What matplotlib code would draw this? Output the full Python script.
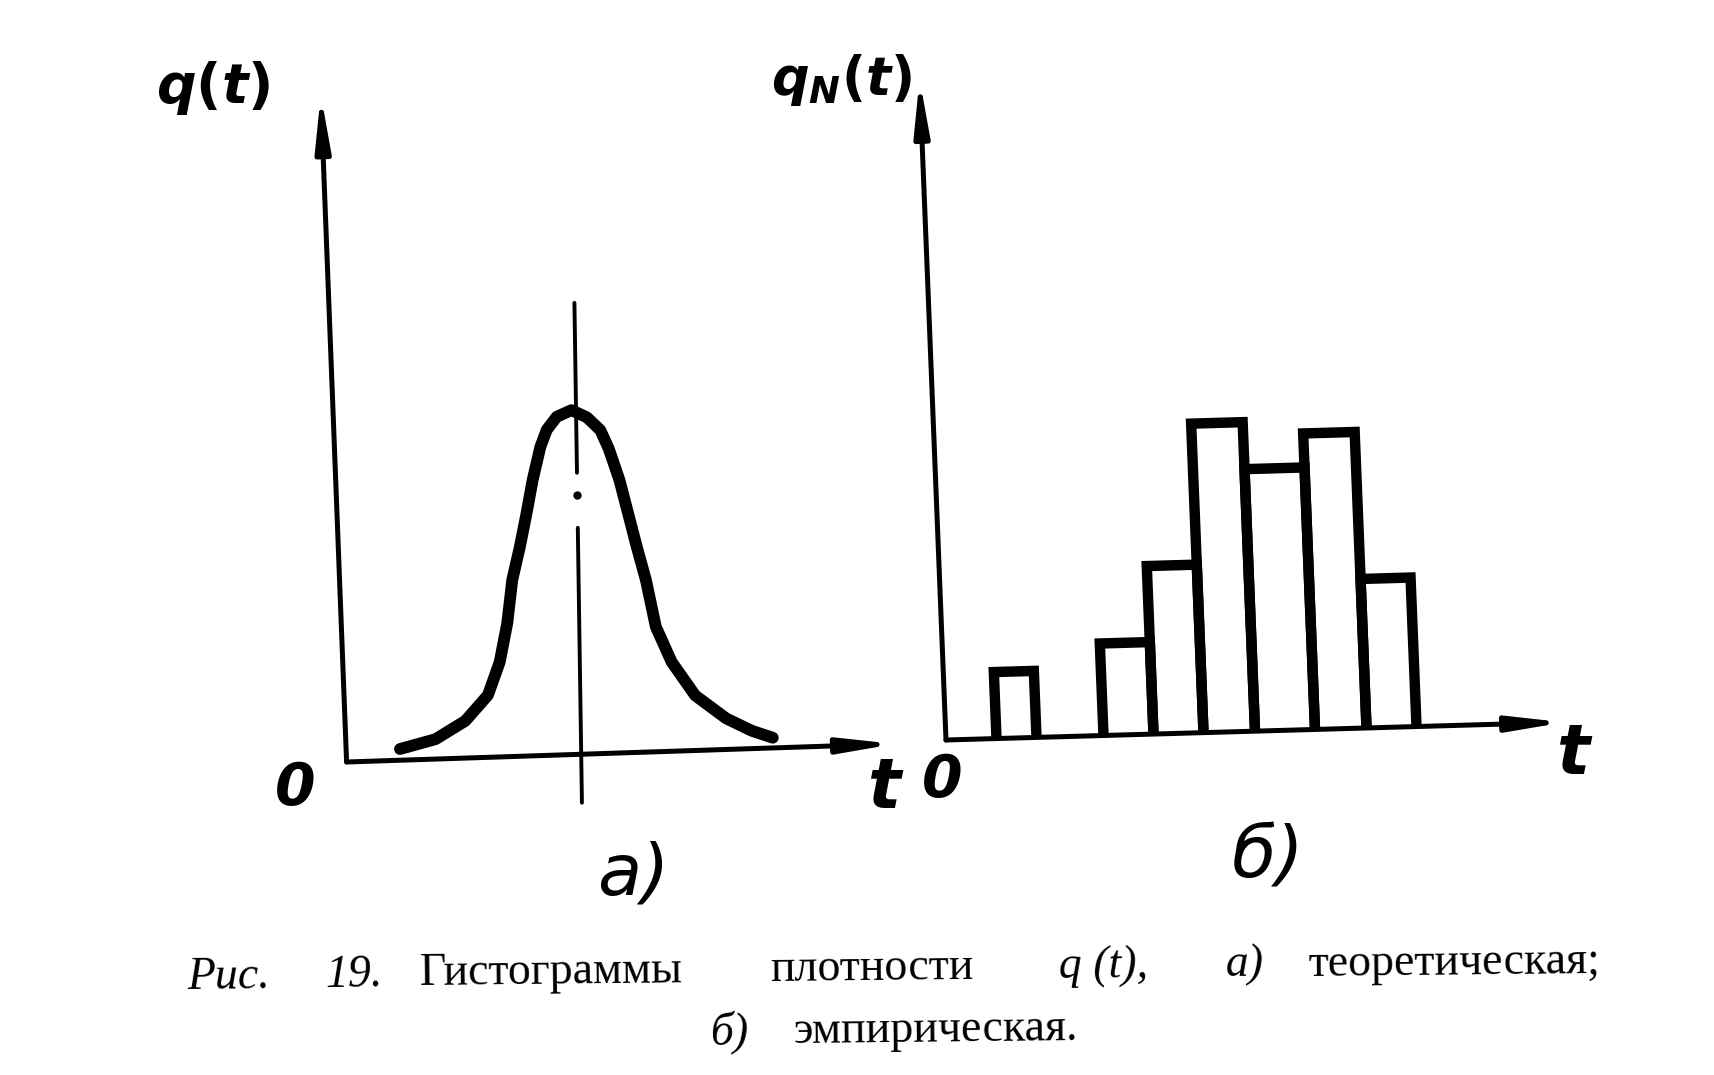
import matplotlib
matplotlib.use('Agg')
import matplotlib.pyplot as plt
import matplotlib.transforms as mtransforms

plt.rcParams['mathtext.fontset'] = 'custom'
plt.rcParams['mathtext.it'] = 'DejaVu Sans:italic:bold'
plt.rcParams['mathtext.rm'] = 'DejaVu Sans:bold'
plt.rcParams['mathtext.bf'] = 'DejaVu Sans:bold'

W, H, DPI = 1715, 1075, 100

# ---------------- data ----------------
# a) theoretical density curve q(t)
curve_t = [1.05, 1.75, 2.34, 2.79, 3.03, 3.19, 3.30, 3.46, 3.60, 3.73, 3.89, 4.02,
           4.22, 4.51, 4.81, 5.07, 5.23, 5.43, 5.59, 5.75, 5.92, 6.10, 6.40, 6.85,
           7.45, 7.95, 8.36]
curve_q = [0.22, 0.39, 0.73, 1.22, 1.86, 2.62, 3.46, 4.11, 4.76, 5.41, 6.05, 6.38,
           6.63, 6.75, 6.60, 6.34, 5.97, 5.35, 4.69, 4.03, 3.37, 2.45, 1.75, 1.08,
           0.61, 0.35, 0.20]
centre_t = 4.6
centre_segments = [(8.85, 5.52), (4.44, -0.95)]
centre_dot = 5.09

# б) empirical histogram q_N(t)
bar_left = [1.01, 3.15, 4.15, 5.15, 6.18, 7.38, 8.41]
bar_right = [1.81, 4.15, 5.15, 6.18, 7.38, 8.41, 9.41]
bar_height = [1.33, 1.84, 3.36, 6.18, 5.24, 5.92, 2.98]

# labels
ylabel_a = r'$q(t)$'
ylabel_b = r'$q_N(t)$'
origin_label = '0'
xlabel = 't'
panel_a = 'а)'
panel_b = 'б)'
caption1 = [('Рис.', 'italic'), ('19.', 'italic'), ('Гистограммы', 'normal'),
            ('плотности', 'normal'), ('q (t),', 'italic'), ('а)', 'italic'),
            ('теоретическая;', 'normal')]
caption2 = [('б)', 'italic'), ('эмпирическая.', 'normal')]

# ---------------- figure ----------------
fig = plt.figure(figsize=(W / DPI, H / DPI), dpi=DPI)
fig.patch.set_facecolor('white')


def fx(x):
    return x / W


def fy(y):
    return 1 - y / H


arrow_style = '-|>,head_length=3.2,head_width=0.45'

# ---- left panel ----
uL = 51.0
axL = fig.add_axes([fx(346.6), (H - 762) / H, 560 / W, 690 / H])
axL.set_xlim(0, 560 / uL)
axL.set_ylim(0, 690 / uL)
axL.axis('off')
trL = mtransforms.Affine2D().from_values(1, 0.033, -0.015, 1, 0, 0) + axL.transData

axL.annotate('', xy=(-0.31, 13.1), xytext=(0, 0), xycoords=trL, textcoords=trL,
             arrowprops=dict(arrowstyle=arrow_style, lw=3.6, color='black',
                             shrinkA=0, shrinkB=0, mutation_scale=10),
             annotation_clip=False)
axL.annotate('', xy=(10.75, 0), xytext=(0, 0), xycoords=trL, textcoords=trL,
             arrowprops=dict(arrowstyle=arrow_style, lw=3.6, color='black',
                             shrinkA=0, shrinkB=0, mutation_scale=10),
             annotation_clip=False)
for (y0, y1) in centre_segments:
    axL.plot([centre_t, centre_t], [y0, y1], color='black', lw=2.8,
             transform=trL, clip_on=False, solid_capstyle='round')
axL.plot([centre_t], [centre_dot], 'o', color='black', ms=5, transform=trL,
         clip_on=False)
axL.plot(curve_t, curve_q, color='black', lw=8.5, transform=trL, clip_on=False,
         solid_capstyle='round', solid_joinstyle='round')

# ---- right panel ----
uR = 50.0
axR = fig.add_axes([fx(946), (H - 740) / H, 640 / W, 680 / H])
axR.set_xlim(0, 640 / uR)
axR.set_ylim(0, 680 / uR)
axR.axis('off')
trR = mtransforms.Affine2D().from_values(1, 0.0286, -0.04, 1, 0, 0) + axR.transData

axR.annotate('', xy=(0, 13.22), xytext=(0, 0), xycoords=trR, textcoords=trR,
             arrowprops=dict(arrowstyle=arrow_style, lw=3.6, color='black',
                             shrinkA=0, shrinkB=0, mutation_scale=10),
             annotation_clip=False)
axR.annotate('', xy=(12.36, 0), xytext=(0, 0), xycoords=trR, textcoords=trR,
             arrowprops=dict(arrowstyle=arrow_style, lw=3.6, color='black',
                             shrinkA=0, shrinkB=0, mutation_scale=10),
             annotation_clip=False)
for l, r, h in zip(bar_left, bar_right, bar_height):
    axR.plot([l, l, r, r], [0, h, h, 0], color='black', lw=7.5, transform=trR,
             clip_on=False, solid_joinstyle='miter', solid_capstyle='butt')

# ---- handwritten labels ----
hand = dict(family='DejaVu Sans', weight='bold', style='oblique', color='black',
            ha='center', va='center')
fig.text(fx(213), fy(88), ylabel_a, fontsize=40, ha='center', va='center')
fig.text(fx(842), fy(80), ylabel_b, fontsize=38, ha='center', va='center')
fig.text(fx(295), fy(789), origin_label, fontsize=42, **hand)
fig.text(fx(884), fy(788), xlabel, fontsize=50, **hand)
fig.text(fx(942), fy(780), origin_label, fontsize=42, **hand)
fig.text(fx(1573), fy(755), xlabel, fontsize=50, **hand)
fig.text(fx(633), fy(875), panel_a, fontsize=52, family='DejaVu Sans',
         style='oblique', weight='normal', ha='center', va='center')
fig.text(fx(1268), fy(858), panel_b, fontsize=52, family='DejaVu Sans',
         style='oblique', weight='normal', ha='center', va='center')

# ---- caption ----
cap1_x = [229, 354, 551, 872, 1104, 1245, 1454]
cap1_y = [989, 987, 984, 980, 978, 976, 974]
for (s, st), x, y in zip(caption1, cap1_x, cap1_y):
    fig.text(fx(x), fy(y), s, fontsize=33, family='Liberation Serif', style=st,
             ha='center', va='baseline', rotation=0.6, rotation_mode='anchor')
cap2_x = [730, 936]
cap2_y = [1044, 1042]
for (s, st), x, y in zip(caption2, cap2_x, cap2_y):
    fig.text(fx(x), fy(y), s, fontsize=33, family='Liberation Serif', style=st,
             ha='center', va='baseline', rotation=0.6, rotation_mode='anchor')

fig.savefig('out.png', dpi=DPI, facecolor='white')
